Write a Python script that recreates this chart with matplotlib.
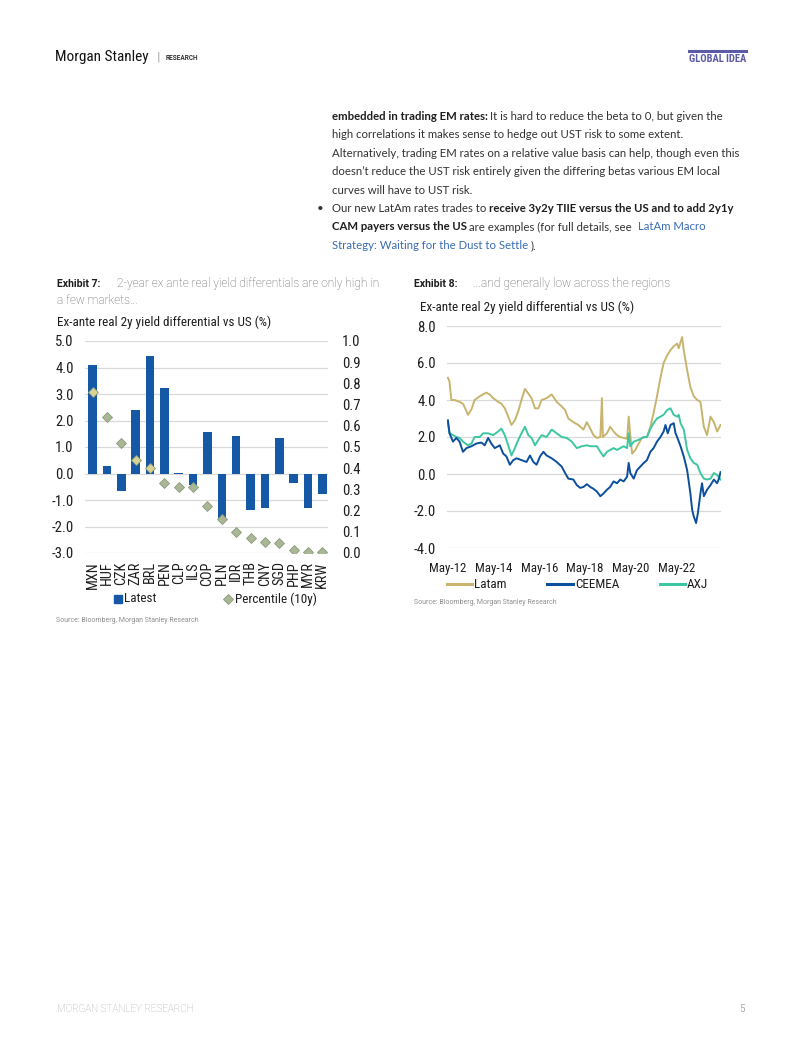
import matplotlib
matplotlib.use('Agg')
import matplotlib.pyplot as plt
from matplotlib import font_manager
from matplotlib.lines import Line2D
import numpy as np

# ---------------- data: Exhibit 7 ----------------
countries = ['MXN', 'HUF', 'CZK', 'ZAR', 'BRL', 'PEN', 'CLP', 'ILS', 'COP',
             'PLN', 'IDR', 'THB', 'CNY', 'SGD', 'PHP', 'MYR', 'KRW']
latest = [4.10, 0.30, -0.65, 2.39, 4.43, 3.22, 0.03, -0.45, 1.56,
          -1.68, 1.43, -1.36, -1.31, 1.35, -0.35, -1.30, -0.77]
percentile = [0.76, 0.64, 0.52, 0.44, 0.40, 0.33, 0.31, 0.31, 0.22,
              0.16, 0.10, 0.07, 0.05, 0.045, 0.016, 0.006, 0.006]
left_ticks = [5, 4, 3, 2, 1, 0, -1, -2, -3]
right_ticks = [1.0, 0.9, 0.8, 0.7, 0.6, 0.5, 0.4, 0.3, 0.2, 0.1, 0.0]

# ---------------- data: Exhibit 8 (decimal years) ----------------
latam_t = [2012.37, 2012.44, 2012.52, 2012.66, 2012.88, 2013.03, 2013.18, 2013.25, 2013.40,
           2013.54, 2013.76, 2014.05, 2014.20, 2014.35, 2014.57, 2014.71, 2014.86, 2015.01,
           2015.15, 2015.30, 2015.45, 2015.59, 2015.74, 2015.89, 2016.03, 2016.18, 2016.33,
           2016.47, 2016.69, 2016.91, 2017.13, 2017.35, 2017.50, 2017.64, 2017.86, 2018.08,
           2018.30, 2018.45, 2018.60, 2018.74, 2018.89, 2019.04, 2019.11, 2019.15, 2019.33,
           2019.47, 2019.62, 2019.77, 2019.91, 2020.06, 2020.21, 2020.28, 2020.35, 2020.43,
           2020.57, 2020.72, 2020.86, 2021.08, 2021.23, 2021.37, 2021.52, 2021.67, 2021.81,
           2021.96, 2022.11, 2022.25, 2022.40, 2022.47, 2022.62, 2022.69, 2022.84, 2022.98,
           2023.13, 2023.28, 2023.42, 2023.57, 2023.71, 2023.86, 2024.01, 2024.15, 2024.30]
latam_v = [5.2, 5.0, 4.0, 4.0, 3.9, 3.8, 3.4, 3.2, 3.5,
           4.0, 4.2, 4.4, 4.3, 4.1, 3.9, 3.8, 3.55, 3.1,
           2.65, 2.9, 3.4, 4.0, 4.6, 4.35, 4.1, 3.55, 3.55,
           4.0, 4.1, 4.3, 3.9, 3.65, 3.45, 3.0, 2.8, 2.65,
           2.4, 2.8, 2.45, 2.1, 1.95, 2.0, 4.1, 2.0, 2.2,
           2.55, 2.3, 2.1, 2.0, 1.95, 1.9, 3.1, 2.1, 1.1,
           1.3, 1.65, 1.95, 2.0, 2.55, 3.3, 4.2, 5.2, 6.0,
           6.4, 6.7, 6.9, 7.05, 6.8, 7.4, 6.7, 5.6, 4.7,
           4.2, 4.0, 3.9, 2.55, 2.1, 3.1, 2.8, 2.3, 2.65]

ceemea_t = [2012.37, 2012.44, 2012.59, 2012.74, 2012.88, 2013.03, 2013.18, 2013.40, 2013.62,
            2013.84, 2013.98, 2014.13, 2014.27, 2014.42, 2014.64, 2014.79, 2014.93, 2015.08,
            2015.23, 2015.37, 2015.59, 2015.81, 2015.96, 2016.11, 2016.25, 2016.40, 2016.55,
            2016.69, 2016.91, 2017.13, 2017.35, 2017.50, 2017.64, 2017.86, 2018.01, 2018.16,
            2018.30, 2018.45, 2018.60, 2018.74, 2018.89, 2019.04, 2019.18, 2019.33, 2019.47,
            2019.62, 2019.77, 2019.91, 2020.06, 2020.21, 2020.28, 2020.35, 2020.50, 2020.64,
            2020.79, 2020.94, 2021.08, 2021.23, 2021.37, 2021.52, 2021.67, 2021.81, 2021.89,
            2021.99, 2022.11, 2022.25, 2022.33, 2022.40, 2022.55, 2022.69, 2022.84, 2022.98,
            2023.06, 2023.13, 2023.23, 2023.31, 2023.42, 2023.49, 2023.57, 2023.71, 2023.86,
            2024.01, 2024.15, 2024.23, 2024.30]
ceemea_v = [2.9, 2.2, 1.75, 1.95, 1.75, 1.2, 1.4, 1.5, 1.65,
            1.7, 1.55, 1.95, 1.65, 1.4, 1.55, 1.1, 0.95, 0.5,
            0.75, 0.85, 0.75, 0.65, 1.0, 0.65, 0.5, 0.95, 1.2,
            1.0, 0.85, 0.65, 0.4, 0.05, -0.25, -0.3, -0.6, -0.75,
            -0.7, -0.55, -0.7, -0.8, -0.95, -1.2, -1.05, -0.85, -0.7,
            -0.4, -0.5, -0.3, -0.4, -0.15, 0.6, 0.05, -0.25, 0.2,
            0.4, 0.6, 0.75, 1.2, 1.4, 1.75, 2.0, 2.3, 2.65,
            2.2, 2.65, 2.75, 2.2, 2.0, 1.5, 0.95, 0.2, -1.05,
            -1.95, -2.3, -2.65, -2.1, -1.05, -0.5, -1.2, -0.85, -0.6,
            -0.3, -0.5, -0.25, 0.1]

axj_t = [2012.37, 2012.44, 2012.59, 2012.74, 2012.88, 2013.03, 2013.25, 2013.40, 2013.54,
         2013.76, 2013.91, 2014.13, 2014.35, 2014.57, 2014.71, 2014.86, 2015.01, 2015.15,
         2015.30, 2015.45, 2015.59, 2015.74, 2015.89, 2016.03, 2016.18, 2016.33, 2016.47,
         2016.69, 2016.91, 2017.13, 2017.35, 2017.57, 2017.79, 2018.01, 2018.23, 2018.45,
         2018.60, 2018.74, 2018.89, 2019.04, 2019.18, 2019.33, 2019.47, 2019.62, 2019.77,
         2019.91, 2020.06, 2020.21, 2020.28, 2020.35, 2020.50, 2020.72, 2020.94, 2021.08,
         2021.23, 2021.37, 2021.52, 2021.67, 2021.81, 2021.96, 2022.11, 2022.25, 2022.40,
         2022.47, 2022.55, 2022.69, 2022.84, 2022.98, 2023.13, 2023.28, 2023.42, 2023.57,
         2023.71, 2023.86, 2024.01, 2024.15, 2024.30]
axj_v = [2.75, 2.2, 2.1, 2.0, 1.95, 1.75, 1.55, 1.65, 2.0,
         2.0, 2.2, 2.2, 2.1, 2.3, 2.45, 2.1, 1.55, 1.0,
         1.4, 1.85, 2.2, 2.55, 2.1, 1.95, 1.55, 1.85, 2.1,
         2.0, 2.4, 2.2, 2.0, 1.95, 1.75, 1.4, 1.5, 1.55,
         1.5, 1.5, 1.5, 1.2, 0.95, 1.2, 1.3, 1.4, 1.3,
         1.4, 1.5, 1.4, 2.2, 1.5, 1.75, 1.85, 2.0, 2.0,
         2.45, 2.75, 3.0, 3.1, 3.2, 3.45, 3.55, 3.2, 3.1,
         3.2, 2.75, 2.4, 1.3, 0.85, 0.6, 0.5, 0.05, -0.25,
         -0.3, -0.25, 0.05, -0.05, -0.3]

x8_ticks = [2012.37, 2014.37, 2016.37, 2018.37, 2020.37, 2022.37]
x8_labels = ['May-12', 'May-14', 'May-16', 'May-18', 'May-20', 'May-22']
y8_ticks = [8, 6, 4, 2, 0, -2, -4]
series_names = ['Latam', 'CEEMEA', 'AXJ']

# ---------------- styles ----------------
BAR = '#1558a6'
DIA = '#a9b796'
DIA_IN = '#d8d394'
DIA_EDGE = '#8c9a7c'
C_LATAM = '#c8b46e'
C_CEE = '#0b4f9e'
C_AXJ = '#3cc7a2'
GRID = '#d9d9d9'
TXT = '#1e1e1e'

W, H = 802, 1037
fig = plt.figure(figsize=(W / 100, H / 100), dpi=100)
fig.patch.set_facecolor('white')
R = fig.canvas.get_renderer()

avail = {f.name for f in font_manager.fontManager.ttflist}


def pick(cands, default):
    for c in cands:
        if c in avail:
            return c
    return default


COND = pick(['Roboto Condensed', 'Liberation Sans Narrow', 'Archivo Narrow', 'PT Sans Narrow'], 'Roboto')
BODY = pick(['Lato'], 'DejaVu Sans')
CAP = 'Roboto'


def X(px):
    return px / W


def Y(py):
    return 1 - py / H


def tw(s, size, family, weight='normal'):
    t = fig.text(0, 0, s, fontsize=size, family=family, weight=weight)
    w = t.get_window_extent(R).width
    t.remove()
    return w


def fit(s, target, family, weight='normal'):
    return 10 * target / tw(s, 10, family, weight)


def put_runs(x, y, parts, size, family):
    for s, weight, color in parts:
        # advance width of the run, spaces included
        adv = tw('x' + s + 'x', size, family, weight) - tw('xx', size, family, weight)
        lead = len(s) - len(s.lstrip(' '))
        core = s.strip(' ')
        x_core = x + (tw('x' + ' ' * lead + 'x', size, family, weight) - tw('xx', size, family, weight)
                      if lead else 0)
        fig.text(X(x_core), Y(y), core, fontsize=size, family=family, weight=weight,
                 color=color, va='center', ha='left')
        x += adv


# ---------------- header / footer ----------------
fig.text(X(55), Y(57), 'Morgan Stanley', family=COND,
         fontsize=fit('Morgan Stanley', 94, COND), color='#111111', va='center')
fig.text(X(158), Y(57), '|', family='DejaVu Sans', fontsize=8, color='#999999', va='center', ha='center')
fig.text(X(166), Y(58), 'RESEARCH', family='Roboto', weight='bold',
         fontsize=fit('RESEARCH', 33, 'Roboto', 'bold'), color='#333333', va='center')
fig.text(X(689), Y(59), 'GLOBAL IDEA', family=COND, weight='bold',
         fontsize=fit('GLOBAL IDEA', 57, COND, 'bold'), color='#5b5ba8', va='center')
fig.add_artist(Line2D([X(689), X(746)], [Y(51), Y(51)], color='#5b5ba8', lw=2.2,
                      transform=fig.transFigure))
fig.text(X(57), Y(1009), 'MORGAN STANLEY RESEARCH', family='Roboto', weight='light',
         fontsize=fit('MORGAN STANLEY RESEARCH', 136, 'Roboto', 'light'), color='#aaaaaa', va='center')
fig.text(X(745), Y(1009), '5', family='Roboto', fontsize=7, color='#aaaaaa', va='center', ha='right')

# ---------------- body text ----------------
BLUE = '#3b6cb4'
BODYC = '#333333'
bsize = fit('Alternatively, trading EM rates on a relative value basis can help, though even this', 407, BODY)
x0 = 331.5
lines = [
    (116.7, [('embedded in trading EM rates:', 'bold', TXT),
             (' It is hard to reduce the beta to 0, but given the', 'normal', BODYC)]),
    (135.0, [('high correlations it makes sense to hedge out UST risk to some extent.', 'normal', BODYC)]),
    (153.4, [('Alternatively, trading EM rates on a relative value basis can help, though even this', 'normal', BODYC)]),
    (171.8, [('doesn\u2019t reduce the UST risk entirely given the differing betas various EM local', 'normal', BODYC)]),
    (190.2, [('curves will have to UST risk.', 'normal', BODYC)]),
    (208.6, [('Our new LatAm rates trades to ', 'normal', BODYC),
             ('receive 3y2y TIIE versus the US and to add 2y1y', 'bold', TXT)]),
    (227.0, [('CAM payers versus the US', 'bold', TXT),
             (' are examples (for full details, see ', 'normal', BODYC),
             (' LatAm Macro', 'normal', BLUE)]),
    (245.4, [('Strategy: Waiting for the Dust to Settle', 'normal', BLUE),
             (' ).', 'normal', BODYC)]),
]
for yy, parts in lines:
    put_runs(x0, yy, parts, bsize, BODY)
fig.text(X(320), Y(208.6), '\u2022', family=BODY, fontsize=bsize, color=BODYC, va='center', ha='center')

# ---------------- captions ----------------
csize = fit('Exhibit 7:', 44, CAP, 'bold')
fig.text(X(57), Y(284), 'Exhibit 7:', family=CAP, weight='bold', fontsize=csize, color=TXT, va='center')
s7 = '2-year ex ante real yield differentials are only high in'
s7size = fit(s7, 263, CAP, 'light')
fig.text(X(117), Y(284), s7, family=CAP, weight='light', fontsize=s7size,
         color='#5e5e5e', va='center')
fig.text(X(57), Y(301), 'a few markets...', family=CAP, weight='light',
         fontsize=s7size, color='#5e5e5e', va='center')
fig.text(X(414), Y(284), 'Exhibit 8:', family=CAP, weight='bold', fontsize=csize, color=TXT, va='center')
s8 = '...and generally low across the regions'
fig.text(X(473), Y(284), s8, family=CAP, weight='light', fontsize=fit(s8, 197, CAP, 'light'),
         color='#5e5e5e', va='center')

title = 'Ex-ante real 2y yield differential vs US (%)'
fig.text(X(57), Y(322), title, family=COND, fontsize=fit(title, 213, COND), color=TXT, va='center')
fig.text(X(420.5), Y(307), title, family=COND, fontsize=fit(title, 212, COND), color=TXT, va='center')

src = 'Source: Bloomberg, Morgan Stanley Research'
ssize = fit(src, 143, 'Roboto')
fig.text(X(56), Y(620), src, family='Roboto', fontsize=ssize, color='#909090', va='center')
fig.text(X(414), Y(603), src, family='Roboto', fontsize=ssize, color='#909090', va='center')

YT = fit('-4.0', 22, COND)
XT8 = fit('May-12', 37, COND)
XT7 = fit('MXN', 27.5, COND)

# ---------------- Exhibit 7 chart ----------------
ax1 = fig.add_axes([X(84.8), Y(553), (328 - 84.8) / W, 212 / H])
xi = np.arange(len(countries))
ax1.bar(xi, latest, width=0.6, color=BAR, zorder=2)
ax1.set_xlim(-0.55, len(countries) - 0.6)
ax1.set_ylim(-3, 5)
ax1.set_yticks(left_ticks)
ax1.set_yticklabels([f'{v:.1f}' for v in left_ticks], family=COND, fontsize=YT, color=TXT)
ax1.set_xticks(xi)
ax1.set_xticklabels(countries, rotation=90, family=COND, fontsize=XT7, color=TXT)
ax1.yaxis.grid(True, color=GRID, lw=0.9)
ax1.set_axisbelow(True)
ax1.tick_params(axis='y', length=0, pad=8)
ax1.tick_params(axis='x', length=0, pad=6)
for s in ax1.spines.values():
    s.set_visible(False)

ax1b = ax1.twinx()
ax1b.set_ylim(0, 1)
ax1b.set_yticks(right_ticks)
ax1b.set_yticklabels([f'{v:.1f}' for v in right_ticks], family=COND, fontsize=YT, color=TXT)
ax1b.tick_params(axis='y', length=0, pad=10)
for s in ax1b.spines.values():
    s.set_visible(False)
lo, hi = ax1.get_ylim()
for i, (b, p) in enumerate(zip(latest, percentile)):
    eq = lo + p * (hi - lo)
    inside = (0 <= eq <= b) or (b <= eq <= 0)
    ax1b.plot([i], [p], ls='none', marker='D', ms=5, mfc=DIA_IN if inside else DIA,
              mec=DIA_EDGE, mew=0.6, zorder=3)

# legend 1
lsize = fit('Percentile (10y)', 81, COND)
fig.add_artist(Line2D([X(118.3)], [Y(599)], marker='s', ms=5.5, ls='none', color=BAR,
                      transform=fig.transFigure))
fig.text(X(124.5), Y(599), 'Latest', family=COND, fontsize=lsize, color=TXT, va='center')
fig.add_artist(Line2D([X(228.3)], [Y(599)], marker='D', ms=5, ls='none', mfc=DIA, mec=DIA_EDGE,
                      mew=0.6, transform=fig.transFigure))
fig.text(X(234.5), Y(599), 'Percentile (10y)', family=COND, fontsize=lsize, color=TXT, va='center')

# ---------------- Exhibit 8 chart ----------------
ax2 = fig.add_axes([X(447), Y(548), (721 - 447) / W, (548 - 326) / H])
ax2.plot(latam_t, latam_v, color=C_LATAM, lw=1.4, zorder=3)
ax2.plot(ceemea_t, ceemea_v, color=C_CEE, lw=1.4, zorder=4)
ax2.plot(axj_t, axj_v, color=C_AXJ, lw=1.4, zorder=3.5)
ax2.set_xlim(2012.33, 2024.32)
ax2.set_ylim(-4, 8)
ax2.set_yticks(y8_ticks)
ax2.set_yticklabels([f'{v:.1f}' for v in y8_ticks], family=COND, fontsize=YT, color=TXT)
ax2.set_xticks(x8_ticks)
ax2.set_xticklabels(x8_labels, family=COND, fontsize=XT8, color=TXT)
ax2.yaxis.grid(True, color=GRID, lw=0.9)
ax2.set_axisbelow(True)
ax2.tick_params(axis='y', length=0, pad=8)
ax2.tick_params(axis='x', length=0, pad=10)
for s in ax2.spines.values():
    s.set_visible(False)

# legend 2
for (xa, xb, xt), name, col in zip([(447, 472, 474), (547, 573, 575), (660, 685, 687)],
                                   series_names, [C_LATAM, C_CEE, C_AXJ]):
    fig.add_artist(Line2D([X(xa), X(xb)], [Y(584), Y(584)], color=col, lw=2.2,
                          transform=fig.transFigure))
    fig.text(X(xt), Y(584), name, family=COND, fontsize=lsize, color=TXT, va='center')

fig.savefig('out.png', dpi=100, facecolor='white')
